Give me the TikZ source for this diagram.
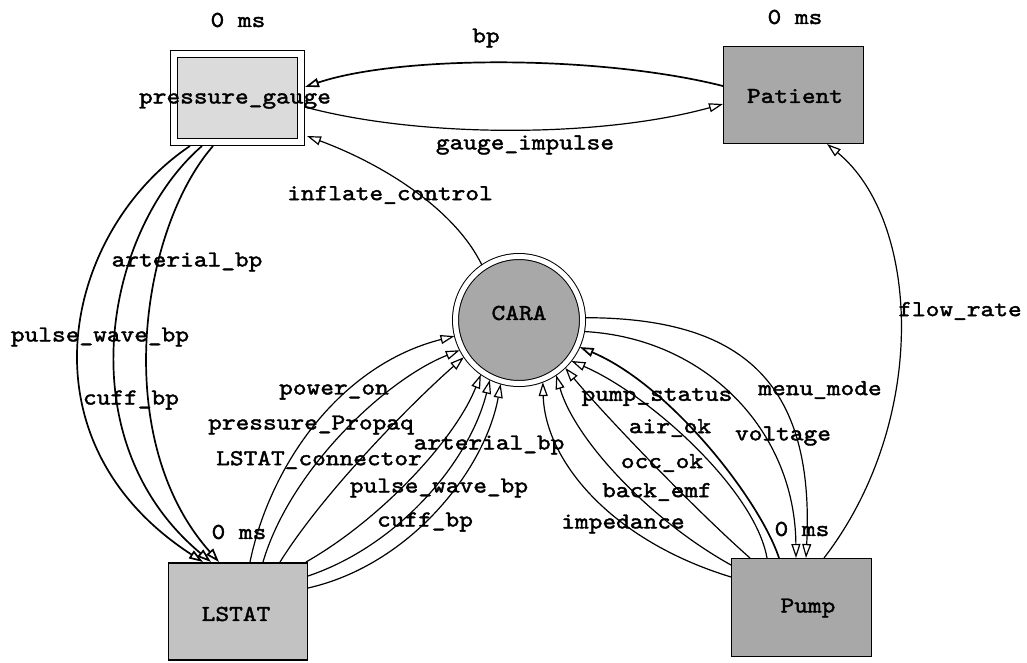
\documentclass[tikz,border=0pt]{standalone}
\usepackage{fontspec}
\newfontfamily\codefont[FakeStretch=1.145,FakeBold=1.8]{lmmono10-regular.otf}
\usetikzlibrary{arrows.meta,calc}
\definecolor{lightfill}{gray}{0.86}
\definecolor{midfill}{gray}{0.76}
\definecolor{darkfill}{gray}{0.66}
\begin{document}
\begin{tikzpicture}[x=1pt,y=-1pt,
  txt/.style={font=\codefont\fontsize{22.8}{24}\selectfont, inner sep=0pt},
  box/.style={draw, rectangle, line width=1.2pt, inner sep=0pt},
  flow/.style={draw, line width=1.2pt, -{Triangle[length=14pt,width=9pt,fill=white]}},
  heavy/.style={line width=1.7pt}
]
\useasboundingbox (0,0) rectangle (1027,662);

% components
\node[box, double, double distance=6pt, fill=lightfill, minimum width=127pt, minimum height=87.5pt] (pg) at (237.5,98) {};
\node[box, fill=darkfill, minimum width=140pt, minimum height=97pt] (pat) at (793.5,95) {};
\node[box, fill=midfill, minimum width=139pt, minimum height=97pt] (lstat) at (238,611.5) {};
\node[box, fill=darkfill, minimum width=140pt, minimum height=98pt] (pump) at (801.5,607.5) {};
\node[draw, circle, line width=1pt, double, double distance=5pt, fill=darkfill, minimum size=127pt, inner sep=0pt, outer sep=3pt] (cara) at (519,320) {};

% gauge <-> patient
\draw[flow, heavy] ($(pat.center)+(-70.5,-9)$) .. controls (600,55) and (400,55) .. ($(pg.center)+(67.5,-11)$);
\draw[flow] ($(pg.center)+(67.5,9)$) .. controls (420,138) and (600,138) .. ($(pat.center)+(-70.5,9)$);

% CARA -> gauge
\draw[flow] (cara.124) .. controls (455,210) and (385,165) .. ($(pg.center)+(69.5,38)$);

% gauge -> LSTAT
\draw[flow, heavy] ($(pg.center)+(-47.5,48)$) .. controls (65,230) and (15,440) .. ($(lstat.center)+(-35,-49.5)$);
\draw[flow, heavy] ($(pg.center)+(-35.5,48)$) .. controls (105,230) and (65,440) .. ($(lstat.center)+(-27,-49.5)$);
\draw[flow, heavy] ($(pg.center)+(-24.5,48)$) .. controls (140,230) and (110,440) .. ($(lstat.center)+(-19,-49.5)$);

% LSTAT -> CARA
\draw[flow] ($(lstat.center)+(12,-49.5)$) .. controls (270,465) and (340,365) .. (cara.194);
\draw[flow] ($(lstat.center)+(25,-49.5)$) .. controls (290,470) and (385,380) .. (cara.207);
\draw[flow] ($(lstat.center)+(42,-49.5)$) .. controls (325,490) and (415,400) .. (cara.214);
\draw[flow] ($(lstat.center)+(68,-49.5)$) .. controls (380,520) and (455,440) .. (cara.235);
\draw[flow] ($(lstat.center)+(70,-35.5)$) .. controls (400,545) and (470,460) .. (cara.244);
\draw[flow] ($(lstat.center)+(70,-23.5)$) .. controls (410,565) and (485,470) .. (cara.254);

% Pump -> CARA
\draw[flow] ($(pump.center)+(-70.5,-30.5)$) .. controls (610,540) and (545,460) .. (cara.291);
\draw[flow] ($(pump.center)+(-70.5,-42.5)$) .. controls (650,520) and (575,440) .. (cara.304);
\draw[flow] ($(pump.center)+(-51.5,-49.5)$) .. controls (690,505) and (600,410) .. (cara.314);
\draw[flow] ($(pump.center)+(-34.5,-49.5)$) .. controls (755,490) and (650,395) .. (cara.322);
\draw[flow, heavy] ($(pump.center)+(-22.5,-49.5)$) .. controls (760,500) and (670,385) .. (cara.336);

% CARA -> Pump
\draw[flow] (cara.2) .. controls (740,318) and (815,380) .. ($(pump.center)+(4.5,-49.5)$);
\draw[flow] (cara.350) .. controls (705,338) and (795,430) .. ($(pump.center)+(-5.5,-49.5)$);

% Pump -> Patient
\draw[flow] ($(pump.center)+(22.5,-49.5)$) .. controls (930,420) and (920,220) .. ($(pat.center)+(33.5,49)$);

% component names and delays
\node[txt] (pg-name) at (235,101) {pressure\_gauge};
\node[txt] (pat-name) at (795,96) {Patient};
\node[txt] (cara-name) at (519,313) {CARA};
\node[txt] (lstat-name) at (236,614) {LSTAT};
\node[txt] (pump-name) at (808,608) {Pump};
\node[txt] (pg-delay) at (238,20) {0 ms};
\node[txt] (pat-delay) at (795,17) {0 ms};
\node[txt] (lstat-delay) at (239,532) {0 ms};
\node[txt] (pump-delay) at (802,529) {0 ms};

% signal names
\node[txt] (l-bp) at (486,38) {bp};
\node[txt] (l-gi) at (525,145) {gauge\_impulse};
\node[txt] (l-ic) at (390,195) {inflate\_control};
\node[txt] (l-abp1) at (187,262) {arterial\_bp};
\node[txt] (l-pwbp1) at (100,337) {pulse\_wave\_bp};
\node[txt] (l-cbp1) at (131,400) {cuff\_bp};
\node[txt] (l-pon) at (334,392) {power\_on};
\node[txt] (l-pp) at (311,425) {pressure\_Propaq};
\node[txt] (l-lc) at (319,460) {LSTAT\_connector};
\node[txt] (l-abp2) at (489,445) {arterial\_bp};
\node[txt] (l-pwbp2) at (439,488) {pulse\_wave\_bp};
\node[txt] (l-cbp2) at (425,522) {cuff\_bp};
\node[txt] (l-ps) at (657,397) {pump\_status};
\node[txt] (l-mm) at (820,390) {menu\_mode};
\node[txt] (l-aok) at (670,428) {air\_ok};
\node[txt] (l-volt) at (783,436) {voltage};
\node[txt] (l-ook) at (662,463) {occ\_ok};
\node[txt] (l-be) at (657,492) {back\_emf};
\node[txt] (l-imp) at (623,524) {impedance};
\node[txt] (l-fr) at (960,311) {flow\_rate};
\end{tikzpicture}
\end{document}
